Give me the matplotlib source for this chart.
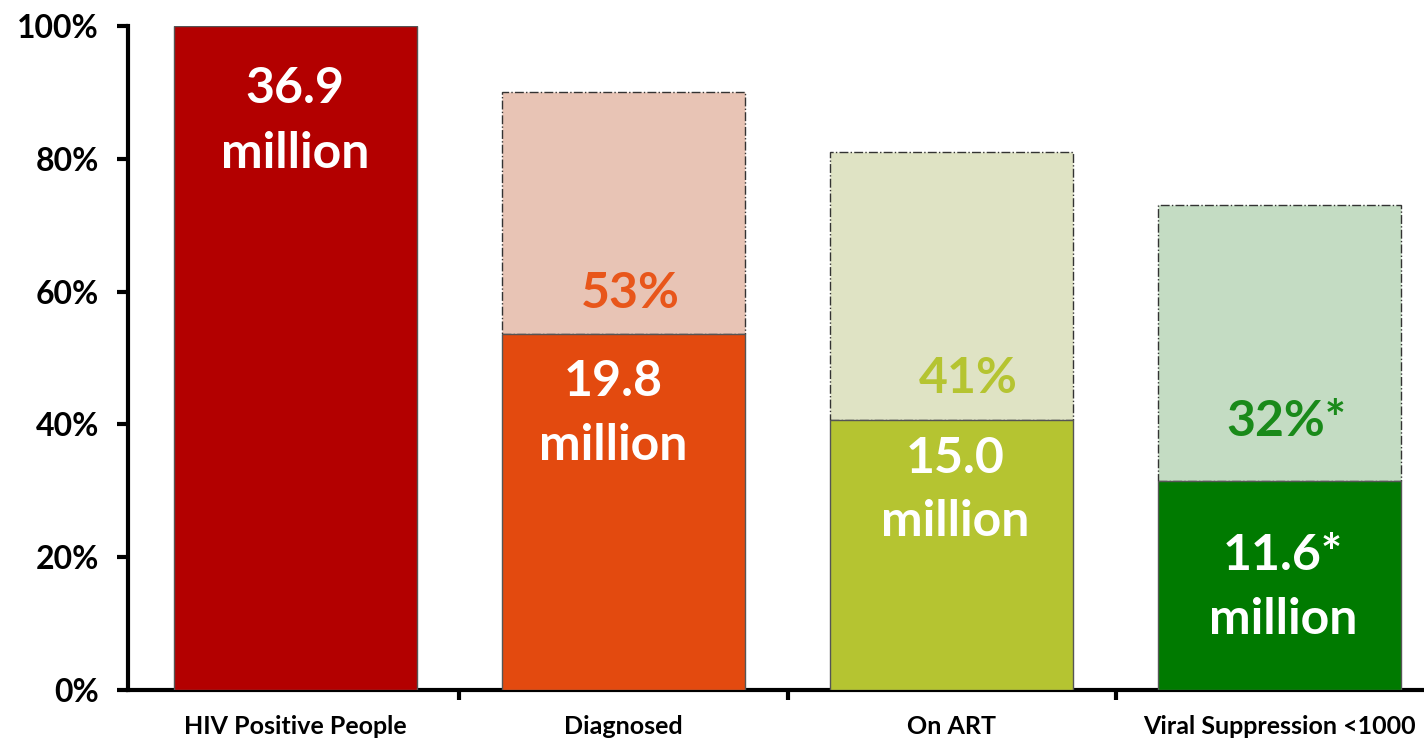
import numpy as np
import matplotlib
matplotlib.use("Agg")
import matplotlib.pyplot as plt

# HIV care cascade: people in millions, 90-90-90 targets in %
categories = ["HIV Positive People", "Diagnosed", "On ART", "Viral Suppression <1000"]
millions = [36.9, 19.8, 15.0, 11.6]
targets = [100, 90, 81, 73]
count_labels = ["36.9", "19.8", "15.0", "11.6*"]
pct_labels = [None, "53%", "41%", "32%*"]

solid_colors = ["#B30000", "#E34A0F", "#B5C431", "#007A00"]
light_colors = ["#B30000", "#E8C4B5", "#DFE3C4", "#C4DCC3"]
pct_colors = [None, "#E8561A", "#B5C431", "#1A8A1A"]

plt.rcParams['font.family'] = ['Lato', 'DejaVu Sans']

share = np.array(millions) / millions[0] * 100
x = np.arange(len(categories))
w = 0.74

fig = plt.figure(figsize=(14.24, 7.42), dpi=100)
ax = fig.add_axes([0.0899, 0.0701, 0.924, 0.895])

# light target part (dash-dot outline)
for i in range(1, len(categories)):
    ax.bar(x[i], targets[i] - share[i], bottom=share[i], width=w,
           color=light_colors[i], edgecolor="#333333", linestyle="-.", linewidth=1.0, zorder=2)
# achieved part
ax.bar(x, share, width=w, color=solid_colors, edgecolor="#555555", linewidth=1.0, zorder=3)

# labels inside bars (x, baseline of number, baseline of "million")
count_pos = [(0.0, 88.4, 78.6), (0.97, 44.3, 34.6), (2.01, 32.7, 23.2), (3.01, 18.1, 8.4)]
pct_pos = [None, (1.02, 57.5), (2.05, 44.7), (3.02, 38.3)]
for i in range(len(categories)):
    cx, y1, y2 = count_pos[i]
    ax.text(cx, y1, count_labels[i], ha="center", va="baseline",
            color="white", fontsize=36, fontweight="bold", zorder=4)
    ax.text(cx, y2, "million", ha="center", va="baseline",
            color="white", fontsize=36, fontweight="bold", zorder=4)
    if pct_labels[i]:
        ax.text(pct_pos[i][0], pct_pos[i][1], pct_labels[i], ha="center", va="baseline",
                color=pct_colors[i], fontsize=36, fontweight="bold", zorder=4)

ax.set_xlim(-0.51, 3.5)
ax.set_ylim(0, 100)
ax.set_yticks(np.arange(0, 101, 20))
ax.set_yticklabels([f"{v}%" for v in range(0, 101, 20)], fontsize=23, fontweight="bold")
ax.set_xticks(x)
ax.set_xticklabels(categories, fontsize=18, fontweight="bold")
ax.set_xticks(np.arange(0.5, 3.5, 1), minor=True)
ax.tick_params(axis="x", which="major", length=0, pad=18)
ax.tick_params(axis="x", which="minor", length=7, width=3, direction="out")
ax.tick_params(axis="y", length=8, width=3, direction="out", pad=13)

for s in ["top", "right"]:
    ax.spines[s].set_visible(False)
for s in ["left", "bottom"]:
    ax.spines[s].set_linewidth(3)

fig.savefig("out.png", dpi=100)
